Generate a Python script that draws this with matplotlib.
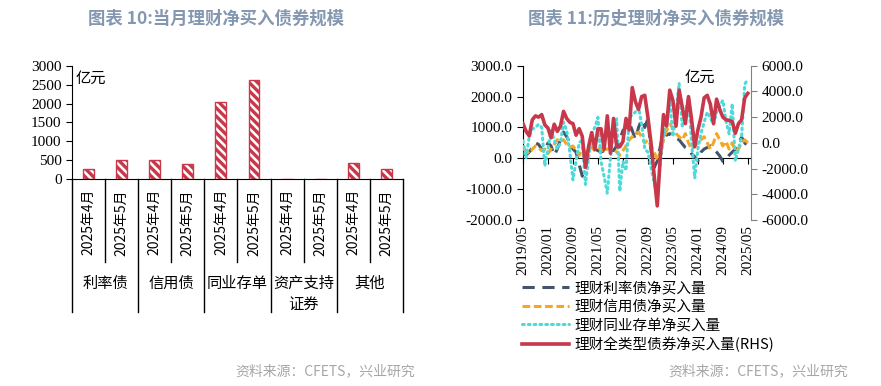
import numpy as np
import matplotlib
matplotlib.use("Agg")
import matplotlib.pyplot as plt
import matplotlib.transforms as mtransforms
from matplotlib.ticker import FormatStrFormatter

plt.rcParams['font.family'] = ['Noto Sans CJK SC', 'DejaVu Sans']
plt.rcParams['axes.unicode_minus'] = False
plt.rcParams['hatch.linewidth'] = 2.4

# ---- left panel: monthly net purchases (亿元) ----
bar_labels = ["2025年4月", "2025年5月"] * 5
group_names = ["利率债", "信用债", "同业存单", "资产支持\n证券", "其他"]
bar_values = [285, 505, 505, 395, 2050, 2610, 20, 15, 420, 265]

# ---- right panel: history, 2019/05 - 2025/05 monthly ----
month_ticks = ["2019/05", "2020/01", "2020/09", "2021/05", "2022/01",
               "2022/09", "2023/05", "2024/01", "2024/09", "2025/05"]
rate_bond = [150, 100, 200, 350, 500, 450, 300, 200, 500, 400,
             100, 300, 600, 850, 700, 500, 300, 200, -200, -580,
             -300, 100, 200, 300, 250, 200, 250, 250, 300, 250,
             400, 600, 900, 1000, 1170, 900, 600, 1000, 1250, 1000,
             1280, 240, -300, -90, 400, 900, 750, 800, 700, 650,
             600, 470, 350, 300, 140, 50, -90, 200, 300, 350,
             400, 300, 200, 75, -100, -50, 100, 200, 300, 500,
             680, 500, 400]
credit_bond = [300, 250, 150, 300, 400, 350, 250, 300, 150, 300,
               450, 600, 550, 600, 450, 350, 400, 250, 100, 350,
               200, 300, 350, 250, 300, 350, 200, 300, 350, 300,
               200, 100, 250, 400, 600, 700, 800, 850, 700, 500,
               600, 400, 200, -50, 200, 600, 900, 1100, 1000, 800,
               700, 600, 800, 500, 300, 400, 500, 600, 700, 500,
               300, 500, 800, 600, 400, 550, 300, 500, 250, 300,
               500, 600, 500]
ncd = [570, 20, 700, 950, 1000, 1100, 1000, -250, 300, 900,
       600, 300, 500, 1170, 900, 200, -700, -100, 500, 600,
       -850, 0, 800, 1000, 1330, -100, -600, -1130, 0, 900,
       1280, -1070, -100, -400, 1330, 1400, 1500, 1660, 1100, 300,
       200, -300, -800, -1290, -100, 700, 1200, 1880, 700, 1500,
       2430, 1000, 1500, 1990, 500, -640, 300, 800, 1170, 1500,
       1300, 1100, 1500, 1700, 1880, 1200, 790, 1770, -90, 300,
       700, 2400, 2560]
total_bond = [1500, 900, 550, 1800, 2100, 2000, 2200, 1400, 1150, 400,
              1450, 900, 1300, 2450, 1900, 1600, 1500, 600, 1100, 500,
              -1900, -300, 800, -500, 1100, 1100, -500, 2100, -800, 1900,
              -300, -300, 100, 1900, 1000, 4300, 3200, 2600, 3600, 3700,
              2000, 0, -2500, -4900, -1000, 2200, 1300, 4100, 3300, 1300,
              4100, 2800, 1500, 3600, 1800, -300, 1000, 2000, 3500, 3700,
              3000, 1500, 3400, 2600, 2000, 1800, 1750, 1650, 750, 1500,
              1800, 3500, 3850]

RED = "#C8384A"
NAVY = "#44546A"
ORANGE = "#F5A623"
CYAN = "#4FD9D9"
TITLE_C = "#8497B0"
SERIF = "Liberation Serif"

fig = plt.figure(figsize=(8.81, 3.86), dpi=100)

# ================= left panel =================
ax = fig.add_axes([0.0817, 0.5355, 0.3757, 0.2943])
x = np.arange(len(bar_values))
ax.bar(x, bar_values, width=0.33, color="white", edgecolor=RED,
       hatch="\\\\\\\\", linewidth=1.0, zorder=2)
ax.set_xlim(-0.5, len(bar_values) - 0.5)
ax.set_ylim(0, 3000)
ax.set_yticks(np.arange(0, 3001, 500))
ax.tick_params(axis='y', direction='out', length=4, labelsize=11)
for t in ax.get_yticklabels():
    t.set_fontfamily(SERIF)
ax.set_xticks(x)
ax.set_xticklabels(bar_labels, rotation=90, fontsize=10)
ax.tick_params(axis='x', length=0, pad=7)
for s in ["top", "right"]:
    ax.spines[s].set_visible(False)
ax.text(0.01, 0.96, "亿元", transform=ax.transAxes, fontsize=11,
        ha="left", va="top")

trans = mtransforms.blended_transform_factory(ax.transData, ax.transAxes)
for i in range(len(bar_values) + 1):
    xs = i - 0.5
    ybot = -1.17 if i % 2 == 0 else -0.73
    ax.plot([xs, xs], [0, ybot], color="black", lw=1.0,
            transform=trans, clip_on=False)
for g, name in enumerate(group_names):
    ax.text(2 * g + 0.5, -0.84, name, transform=trans, ha="center",
            va="top", fontsize=11, linespacing=1.3)

fig.text(0.245, 0.953, "图表 10:当月理财净买入债券规模", ha="center",
         va="center", fontsize=12.5, fontweight="bold", color=TITLE_C)
fig.text(0.471, 0.038, "资料来源：CFETS，兴业研究", ha="right",
         va="center", fontsize=10, color="#A6A6A6")

# ================= right panel =================
axr = fig.add_axes([0.5936, 0.43, 0.2588, 0.3997])
months = np.arange(len(total_bond))
l1, = axr.plot(months, rate_bond, color=NAVY, lw=2.2,
               dashes=(4, 2.5), zorder=3)
l2, = axr.plot(months, credit_bond, color=ORANGE, lw=2.2,
               dashes=(2.5, 1.2), zorder=3)
l3, = axr.plot(months, ncd, color=CYAN, lw=2.2, linestyle=(0, (0.6, 1.3)),
               dash_capstyle="round", zorder=3)
axr.set_xlim(0, len(total_bond))
axr.set_ylim(-2000, 3000)
axr.set_yticks(np.arange(-2000, 3001, 1000))
axr.yaxis.set_major_formatter(FormatStrFormatter("%.1f"))
axr.tick_params(axis='y', direction='out', length=4, labelsize=11)
for t in axr.get_yticklabels():
    t.set_fontfamily(SERIF)
axr.spines["bottom"].set_position(("data", 0))
axr.spines["top"].set_visible(False)
axr.spines["right"].set_visible(False)
tick_pos = np.arange(0, len(total_bond), 8)
axr.set_xticks(tick_pos)
axr.tick_params(axis='x', direction='out', length=4, labelbottom=False)
transr = mtransforms.blended_transform_factory(axr.transData, axr.transAxes)
for p, lab in zip(tick_pos, month_ticks):
    axr.text(p, -0.03, lab, transform=transr, rotation=90, ha="center",
             va="top", fontsize=11, fontfamily=SERIF)

ax2 = axr.twinx()
l4, = ax2.plot(months, total_bond, color=RED, lw=2.6, zorder=4)
ax2.set_ylim(-6000, 6000)
ax2.set_yticks(np.arange(-6000, 6001, 2000))
ax2.yaxis.set_major_formatter(FormatStrFormatter("%.1f"))
ax2.tick_params(axis='y', direction='out', length=4, labelsize=11,
                color="#808080")
for t in ax2.get_yticklabels():
    t.set_fontfamily(SERIF)
for s in ["top", "left", "bottom"]:
    ax2.spines[s].set_visible(False)
ax2.spines["right"].set_color("#808080")
ax2.text(0.71, 0.98, "亿元", transform=ax2.transAxes, fontsize=11,
         ha="left", va="top")

fig.legend([l1, l2, l3, l4],
           ["理财利率债净买入量", "理财信用债净买入量",
            "理财同业存单净买入量", "理财全类型债券净买入量(RHS)"],
           loc="upper left", bbox_to_anchor=(0.593, 0.272), frameon=False,
           fontsize=10.5, handlelength=3.2, handletextpad=0.4,
           labelspacing=0.32, borderpad=0, borderaxespad=0)

fig.text(0.745, 0.953, "图表 11:历史理财净买入债券规模", ha="center",
         va="center", fontsize=12.5, fontweight="bold", color=TITLE_C)
fig.text(0.963, 0.038, "资料来源：CFETS，兴业研究", ha="right",
         va="center", fontsize=10, color="#A6A6A6")

fig.savefig("out.png", dpi=100)
